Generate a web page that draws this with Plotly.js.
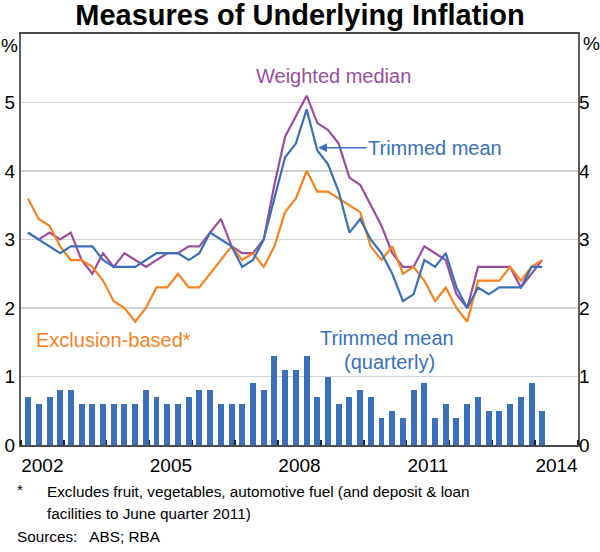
<!DOCTYPE html>
<html>
<head>
<meta charset="utf-8">
<script src="https://cdn.plot.ly/plotly-3.0.1.min.js"></script>
<style>html,body{margin:0;padding:0;background:#fff;}#chart{width:600px;height:552px;}</style>
</head>
<body>
<div id="chart"></div>
<script>
// Quarter (quarter-end month) for each observation
const quarters = [
 '2002-03','2002-06','2002-09','2002-12',
 '2003-03','2003-06','2003-09','2003-12',
 '2004-03','2004-06','2004-09','2004-12',
 '2005-03','2005-06','2005-09','2005-12',
 '2006-03','2006-06','2006-09','2006-12',
 '2007-03','2007-06','2007-09','2007-12',
 '2008-03','2008-06','2008-09','2008-12',
 '2009-03','2009-06','2009-09','2009-12',
 '2010-03','2010-06','2010-09','2010-12',
 '2011-03','2011-06','2011-09','2011-12',
 '2012-03','2012-06','2012-09','2012-12',
 '2013-03','2013-06','2013-09','2013-12',
 '2014-03'
];
// Year-ended, %
const trimmedMean = [
 3.1,3.0,2.9,2.8, 2.9,2.9,2.9,2.7, 2.6,2.6,2.6,2.7, 2.8,2.8,2.8,2.7,
 2.8,3.1,3.0,2.9, 2.6,2.7,3.0,3.6, 4.2,4.4,4.9,4.3, 4.1,3.7,3.1,3.3,
 3.0,2.8,2.5,2.1, 2.2,2.7,2.6,2.8, 2.3,2.0,2.3,2.2, 2.3,2.3,2.3,2.6, 2.6
];
const weightedMedian = [
 3.1,3.0,3.1,3.0, 3.1,2.7,2.5,2.8, 2.6,2.8,2.7,2.6, 2.7,2.8,2.8,2.9,
 2.9,3.1,3.3,2.9, 2.8,2.8,3.0,3.8, 4.5,4.8,5.1,4.7, 4.6,4.4,3.9,3.8,
 3.5,3.2,2.8,2.6, 2.6,2.9,2.8,2.7, 2.2,2.0,2.6,2.6, 2.6,2.6,2.3,2.5, 2.7
];
const exclusionBased = [
 3.6,3.3,3.2,2.9, 2.7,2.7,2.6,2.4, 2.1,2.0,1.8,2.0, 2.3,2.3,2.5,2.3,
 2.3,2.5,2.7,2.9, 2.7,2.8,2.6,2.9, 3.4,3.6,4.0,3.7, 3.7,3.6,3.5,3.4,
 2.9,2.7,2.9,2.5, 2.6,2.4,2.1,2.3, 2.0,1.8,2.4,2.4, 2.4,2.6,2.4,2.6, 2.7
];
// Quarterly, %
const trimmedMeanQuarterly = [
 0.7,0.6,0.7,0.8, 0.8,0.6,0.6,0.6, 0.6,0.6,0.6,0.8, 0.7,0.6,0.6,0.7,
 0.8,0.8,0.6,0.6, 0.6,0.9,0.8,1.3, 1.1,1.1,1.3,0.7, 1.0,0.6,0.7,0.8,
 0.7,0.4,0.5,0.4, 0.8,0.9,0.4,0.6, 0.4,0.6,0.7,0.5, 0.5,0.6,0.7,0.9, 0.5
];
const yearLabels = ['2002','2005','2008','2011','2014'];
const yTicks = [0,1,2,3,4,5];

const BLUE = '#3a70b9', PURPLE = '#9a4f9e', ORANGE = '#f7821f';
const FONT = 'Liberation Sans, Arial, sans-serif';

const traces = [
  {type:'bar', x:quarters, y:trimmedMeanQuarterly, marker:{color:BLUE, line:{width:0}},
   width:51*86400000, hoverinfo:'skip'},
  {type:'scatter', mode:'lines', x:quarters, y:weightedMedian, line:{color:PURPLE, width:2.2}},
  {type:'scatter', mode:'lines', x:quarters, y:exclusionBased, line:{color:ORANGE, width:2.2}},
  {type:'scatter', mode:'lines', x:quarters, y:trimmedMean, line:{color:BLUE, width:2.2}},
  {type:'scatter', mode:'lines', x:quarters, y:trimmedMean, yaxis:'y2', line:{width:0}, opacity:0, hoverinfo:'skip'}
];

const ann = (o) => Object.assign({showarrow:false, font:{family:FONT, size:20}}, o);

const layout = {
  width:600, height:552,
  margin:{l:21, r:22, t:34, b:107},
  paper_bgcolor:'#fff', plot_bgcolor:'#fff',
  showlegend:false,
  bargap:0,
  font:{family:FONT, color:'#000'},
  title:{text:'<b>Measures of Underlying Inflation</b>', font:{family:FONT, size:29, color:'#000'},
         x:0.5, xanchor:'center', y:0.974, yanchor:'middle'},
  xaxis:{type:'date', range:['2002-01-01','2015-01-01'],
         tickmode:'array', tickvals:yearLabels.map(y => y + '-07-02'), ticktext:yearLabels,
         ticks:'', tickfont:{size:19, family:FONT, color:'#000'}, ticklabelstandoff:2,
         minor:{tick0:'2002-01-01', dtick:'M12', ticks:'inside', ticklen:5, tickwidth:1.5, tickcolor:'#222', showgrid:false},
         showgrid:false, showline:true, linecolor:'#4a4a4a', linewidth:2, mirror:true, zeroline:false, fixedrange:true},
  yaxis:{range:[0,6], tickmode:'array', tickvals:yTicks, ticks:'', showgrid:true, gridcolor:'#d3d3d3', gridwidth:1.5,
         showline:true, linecolor:'#5e5e5e', linewidth:2, mirror:true, zeroline:false,
         tickfont:{size:19, family:FONT, color:'#000'}, fixedrange:true},
  yaxis2:{range:[0,6], overlaying:'y', side:'right', tickmode:'array', tickvals:yTicks, ticks:'',
          showgrid:false, showline:false, zeroline:false, tickfont:{size:19, family:FONT, color:'#000'}, fixedrange:true},
  annotations:[
    ann({text:'%', xref:'paper', yref:'paper', x:-0.002, y:0.973, xanchor:'right', yanchor:'middle', font:{family:FONT, size:19, color:'#000'}}),
    ann({text:'%', xref:'paper', yref:'paper', x:1.005, y:0.978, xanchor:'left', yanchor:'middle', font:{family:FONT, size:19, color:'#000'}}),
    ann({text:'Weighted median', x:'2009-04-15', y:5.39, xanchor:'center', yanchor:'middle', font:{family:FONT, size:20, color:PURPLE}}),
    ann({text:'Trimmed mean', x:'2008-12-08', y:4.34, showarrow:true, ax:117, ay:0,
         arrowhead:2, arrowsize:1.1, arrowwidth:1.6, arrowcolor:BLUE, standoff:0,
         font:{family:FONT, size:20, color:BLUE}}),
    ann({text:'Exclusion-based*', x:'2002-04-20', y:1.53, xanchor:'left', yanchor:'middle', font:{family:FONT, size:20, color:ORANGE}}),
    ann({text:'Trimmed mean', x:'2010-07-19', y:1.56, xanchor:'center', yanchor:'middle', font:{family:FONT, size:20, color:BLUE}}),
    ann({text:'(quarterly)', x:'2010-08-11', y:1.21, xanchor:'center', yanchor:'middle', font:{family:FONT, size:20, color:BLUE}}),
    ann({text:'*', xref:'paper', yref:'paper', x:(15-21)/557, y:(445-489)/411, xanchor:'left', yanchor:'middle', font:{family:FONT, size:15, color:'#000'}}),
    ann({text:'Excludes fruit, vegetables, automotive fuel (and deposit &amp; loan', xref:'paper', yref:'paper', x:(45-21)/557, y:(445-491)/411, xanchor:'left', yanchor:'middle', font:{family:FONT, size:15.3, color:'#000'}}),
    ann({text:'facilities to June quarter 2011)', xref:'paper', yref:'paper', x:(45-21)/557, y:(445-513.5)/411, xanchor:'left', yanchor:'middle', font:{family:FONT, size:15.3, color:'#000'}}),
    ann({text:'Sources:&nbsp;&nbsp; ABS; RBA', xref:'paper', yref:'paper', x:(15-21)/557, y:(445-536)/411, xanchor:'left', yanchor:'middle', font:{family:FONT, size:15.3, color:'#000'}})
  ]
};

Plotly.newPlot('chart', traces, layout, {displayModeBar:false, staticPlot:true});
</script>
</body>
</html>
